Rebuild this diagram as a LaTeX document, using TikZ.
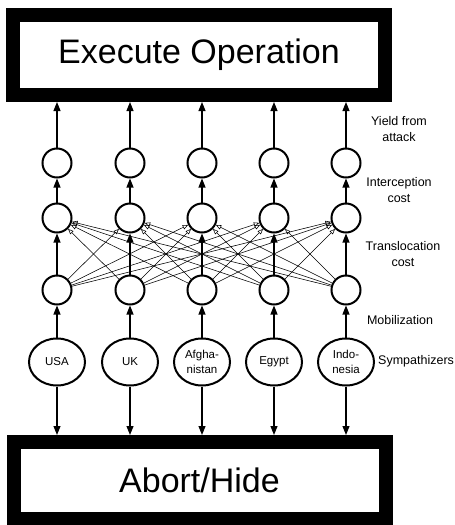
\documentclass[tikz,border=0pt]{standalone}
\usepackage{fontspec}
\setmainfont{Liberation Sans}
\usetikzlibrary{arrows.meta,shapes.geometric}
\tikzset{
  bigbox/.style={draw, line width=14pt, outer sep=7pt, minimum width=372pt, font=\fontsize{34}{36}\selectfont},
  stage/.style={circle, draw, line width=2pt, minimum size=29pt, inner sep=0pt},
  cntry/.style={ellipse, draw, line width=2pt, minimum width=56pt, minimum height=47pt, inner sep=0pt, align=center, font=\fontsize{11.5}{15}\selectfont},
  up/.style={-{Triangle[length=9pt, width=7pt]}, line width=1.1pt},
  cross/.style={-{Triangle[open, length=5.5pt, width=4.5pt]}, line width=0.55pt},
  rowlbl/.style={font=\fontsize{12.5}{16}\selectfont, align=center, inner sep=0pt}}

\begin{document}
\begin{tikzpicture}[x=1pt, y=-1pt]
  \useasboundingbox (0,0) rectangle (455,525);
  % outcome boxes
  \node[bigbox, minimum height=80pt] (exec) at (199,55) {Execute Operation};
  \node[bigbox, minimum height=77pt] (abort) at (199.5,480.5) {Abort/Hide};
  % sympathizer pools
  \node[cntry] (sym1) at (57,362) {USA};
  \node[cntry] (sym2) at (130,362) {UK};
  \node[cntry] (sym3) at (202,362) {Afgha-\\nistan};
  \node[cntry] (sym4) at (274,362) {Egypt};
  \node[cntry] (sym5) at (346,362) {Indo-\\nesia};
  % stage nodes, one column per country
  \foreach \i/\x in {1/57, 2/130, 3/202, 4/274, 5/346} {
    \node[stage] (mob\i) at (\x,290) {};
    \node[stage] (loc\i) at (\x,218) {};
    \node[stage] (att\i) at (\x,163) {};
  }
  \foreach \i in {1,...,5} {
    \draw[up] (sym\i) -- (mob\i);
    \draw[up] (mob\i) -- (loc\i);
    \draw[up] (loc\i) -- (att\i);
    \draw[up] (att\i) -- (att\i |- exec.south);
    \draw[up] (sym\i) -- (sym\i |- abort.north);
  }
  % translocation between countries
  \foreach \i in {1,...,5} {
    \foreach \j in {1,...,5} {
      \ifnum\i=\j\relax\else \draw[cross] (mob\i) -- (loc\j);\fi
    }
  }
  % row labels
  \node[rowlbl] (lyld) at (399,129) {Yield from\\attack};
  \node[rowlbl] (licp) at (399,190) {Interception\\cost};
  \node[rowlbl] (ltrl) at (403,254) {Translocation\\cost};
  \node[rowlbl] (lmob) at (400,320) {Mobilization};
  \node[rowlbl, anchor=west] (lsym) at (378,361) {Sympathizers};
\end{tikzpicture}
\end{document}
